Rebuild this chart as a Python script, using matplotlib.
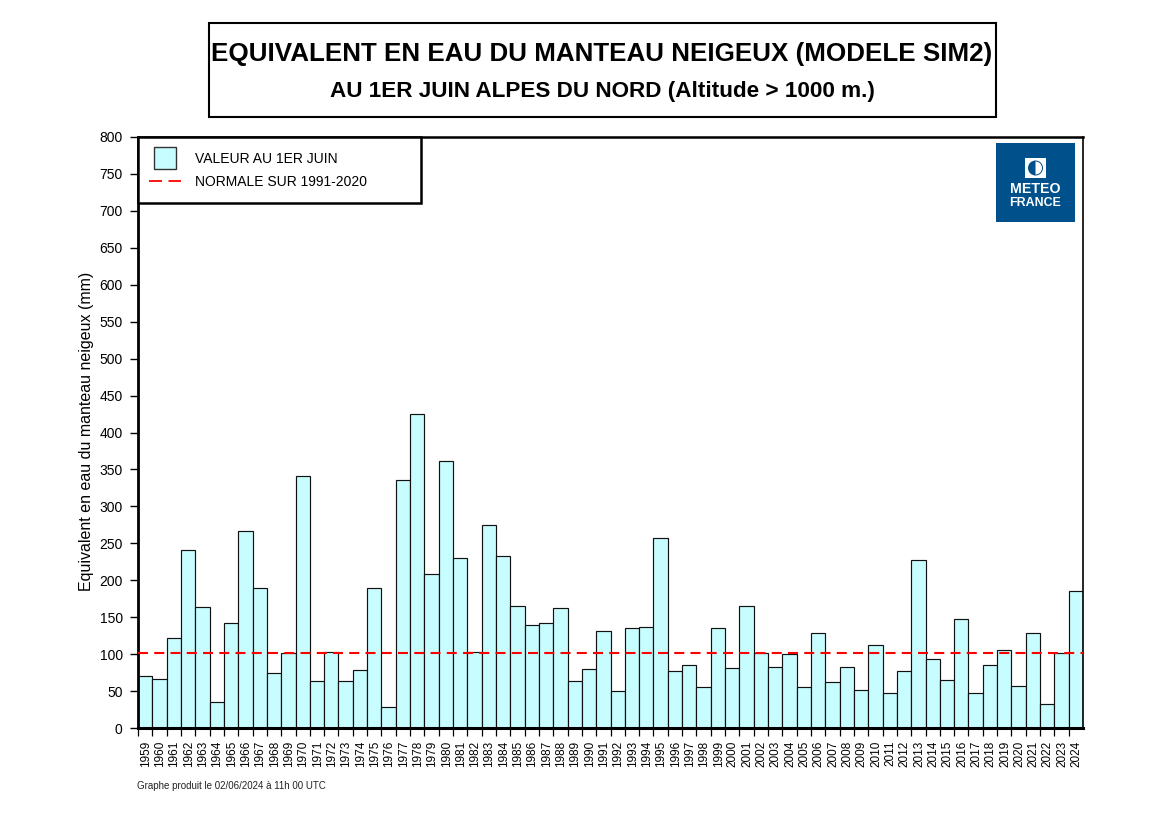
import numpy as np
import matplotlib
matplotlib.use('Agg')
import matplotlib.pyplot as plt
from matplotlib.patches import Rectangle, Wedge

plt.rcParams['font.family'] = ['Liberation Sans', 'DejaVu Sans']

# valeurs
annees = list(range(1959, 2025))
valeurs = [70, 67, 122, 241, 164, 35, 142, 266, 189, 75,
           102, 341, 64, 103, 63, 79, 190, 28, 336, 425,
           208, 362, 230, 103, 275, 233, 165, 139, 142, 163,
           63, 80, 131, 50, 136, 137, 257, 77, 85, 55,
           135, 81, 165, 102, 82, 100, 56, 129, 62, 83,
           51, 112, 48, 77, 227, 93, 65, 148, 48, 85,
           106, 57, 128, 33, 102, 186]
normale = 102
yticks = list(range(0, 801, 50))

W, H = 1169, 826

# conversion pixels -> fraction de figure
def fx(x):
    return x / W

def fy(y):
    return 1 - y / H

fig = plt.figure(figsize=(W / 100, H / 100), dpi=100)
ax = fig.add_axes([fx(138), fy(728), fx(1083) - fx(138), fy(137) - fy(728)])

x = np.arange(len(annees))
ax.bar(x, valeurs, width=1.0, color='#c8fdff', edgecolor='#111111', linewidth=0.85, zorder=2)
ax.axhline(normale, color='red', linewidth=1.5, dashes=(4.8, 3.0), zorder=3)

ax.set_xlim(-0.5, len(annees) - 0.5)
ax.set_ylim(0, 800)
ax.set_yticks(yticks)
ax.tick_params(axis='y', labelsize=10, length=6, width=1.0, pad=5, color='black')
ax.set_ylabel('Equivalent en eau du manteau neigeux (mm)', fontsize=11.5, labelpad=3.5, y=0.5025)

# ticks sur les bords des barres, labels au centre
ax.set_xticks(x - 0.5, minor=False)
ax.set_xticklabels([])
ax.tick_params(axis='x', which='major', length=5.5, width=0.9)
ax.set_xticks(x + 0.05, minor=True)
ax.set_xticklabels([str(a) for a in annees], minor=True, rotation=90, fontsize=8.5)
ax.tick_params(axis='x', which='minor', length=0, pad=9)

ax.spines['left'].set_linewidth(2.0)
ax.spines['bottom'].set_linewidth(2.2)
ax.spines['top'].set_linewidth(1.8)
ax.spines['right'].set_linewidth(1.2)

# cadre du titre
fig.add_artist(Rectangle((fx(209), fy(117)), fx(996) - fx(209), fy(23) - fy(117),
                         transform=fig.transFigure, fill=False, edgecolor='black', linewidth=1.5))
fig.text(fx(602), fy(54), 'EQUIVALENT EN EAU DU MANTEAU NEIGEUX (MODELE SIM2)',
         fontsize=18.7, fontweight='bold', ha='center', va='center')
fig.text(fx(602), fy(91.5), 'AU 1ER JUIN ALPES DU NORD (Altitude > 1000 m.)',
         fontsize=16.2, fontweight='bold', ha='center', va='center')

# légende
fig.add_artist(Rectangle((fx(138), fy(203)), fx(421) - fx(138), fy(137) - fy(203),
                         transform=fig.transFigure, facecolor='white', edgecolor='black',
                         linewidth=1.8, zorder=5))
fig.add_artist(Rectangle((fx(154), fy(169)), fx(176) - fx(154), fy(147) - fy(169),
                         transform=fig.transFigure, facecolor='#c8fdff', edgecolor='#333333',
                         linewidth=1.0, zorder=6))
fig.add_artist(plt.Line2D([fx(149), fx(181)], [fy(181), fy(181)], transform=fig.transFigure,
                          color='red', linewidth=1.3, dashes=(7.2, 3.6), zorder=6))
fig.text(fx(195), fy(158.8), 'VALEUR AU 1ER JUIN', fontsize=10, ha='left', va='center', zorder=6)
fig.text(fx(195), fy(181.5), 'NORMALE SUR 1991-2020', fontsize=10, ha='left', va='center', zorder=6)

# logo
bleu = '#00508c'
fig.add_artist(Rectangle((fx(996), fy(222)), fx(1075) - fx(996), fy(143) - fy(222),
                         transform=fig.transFigure, facecolor=bleu, edgecolor='none', zorder=5))
fig.add_artist(Rectangle((fx(1025), fy(178)), fx(1046) - fx(1025), fy(158) - fy(178),
                         transform=fig.transFigure, facecolor='white', edgecolor='none', zorder=6))
fig.add_artist(plt.Circle((1035.5, H - 168), 7.5, transform=None, facecolor=bleu, edgecolor='none', zorder=7))
fig.add_artist(Wedge((1035.5, H - 168), 6.5, -90, 90, transform=None, facecolor='white', edgecolor='none', zorder=8))
fig.text(fx(1035.5), fy(189), 'METEO', color='white', fontsize=10.2, fontweight='bold',
         ha='center', va='center', zorder=6)
fig.text(fx(1035.5), fy(203), 'FRANCE', color='white', fontsize=8.9, fontweight='bold',
         ha='center', va='center', zorder=6)

fig.text(fx(137), fy(786), 'Graphe produit le 02/06/2024 à 11h 00 UTC', fontsize=7.05,
         color='#222222', ha='left', va='center')

fig.savefig('out.png', dpi=100)
